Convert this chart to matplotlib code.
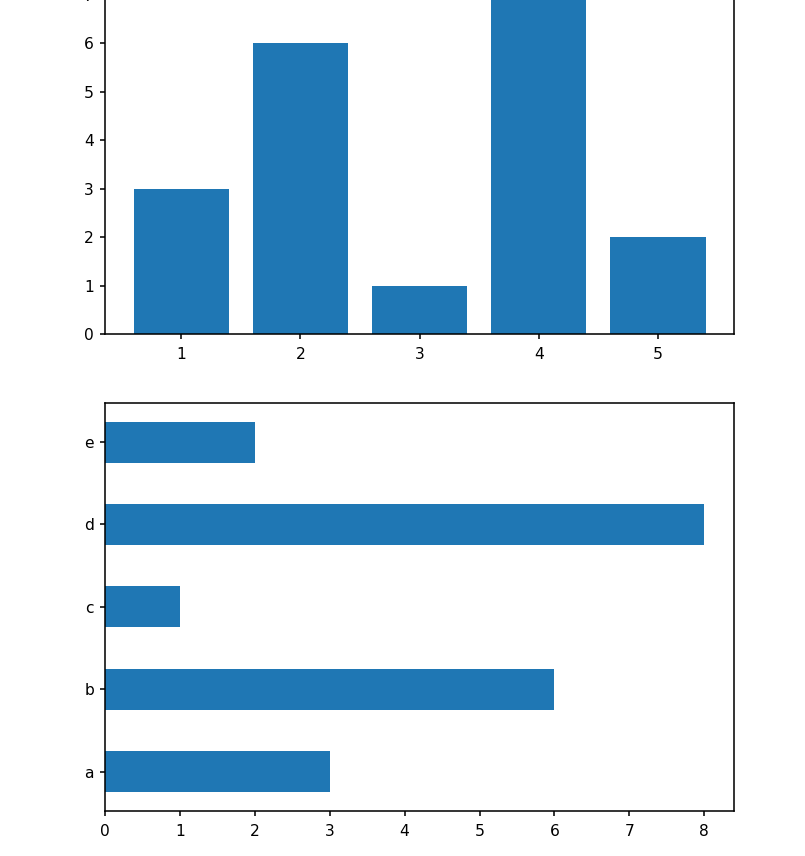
import matplotlib
matplotlib.use('Agg')
import matplotlib.pyplot as plt

# data
positions = [1, 2, 3, 4, 5]
heights = [3, 6, 1, 8, 2]
labels = ['a', 'b', 'c', 'd', 'e']
values = [3, 6, 1, 8, 2]

plt.rcParams['xtick.major.pad'] = 5
plt.rcParams['axes.linewidth'] = 1.0
plt.rcParams['xtick.major.width'] = 1.0
plt.rcParams['ytick.major.width'] = 1.0

dpi = 112
fig = plt.figure(figsize=(805 / dpi, 856 / dpi), dpi=dpi)

# top axes runs past the top edge of the figure (the original is cropped)
ax1 = fig.add_axes([0.1304, 0.6095, 0.7817, 0.4763])
ax1.bar(positions, heights)

ax2 = fig.add_axes([0.1304, 0.0529, 0.7817, 0.4763])
ax2.barh(labels, values, height=0.5)

fig.savefig('out.png', dpi=dpi)
